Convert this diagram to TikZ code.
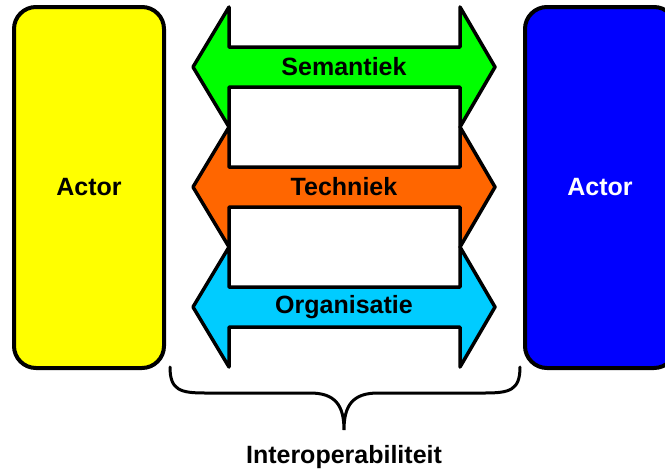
\documentclass[tikz,border=0pt]{standalone}
\usepackage{fontspec}
\setmainfont{Liberation Sans}
\definecolor{cGreen}{RGB}{0,255,0}
\definecolor{cOrange}{RGB}{255,102,0}
\definecolor{cCyan}{RGB}{0,204,255}
\definecolor{cYellow}{RGB}{255,255,0}
\definecolor{cBlue}{RGB}{0,0,255}
\tikzset{
  actorbox/.style={draw=black, line width=4pt, rounded corners=22pt},
  arrowshape/.style={draw=black, line width=3.5pt, line join=round},
  lbl/.style={font=\fontsize{25}{30}\selectfont\bfseries, inner sep=0pt},
  bracepath/.style={draw=black, line width=3pt, line cap=round},
}
\newcommand{\dblarrow}[2]{%
  \path[arrowshape, fill=#2] (193,#1) -- (229,#1-60) -- (229,#1-20) -- (460,#1-20) -- (460,#1-60) -- (495,#1)
    -- (460,#1+60) -- (460,#1+20) -- (229,#1+20) -- (229,#1+60) -- cycle;}
\begin{document}
\begin{tikzpicture}[x=1pt,y=-1pt]
\useasboundingbox (0,0) rectangle (665,472);
\clip (0,0) rectangle (665,472);
% actors
\path[actorbox, fill=cYellow] (14,7) rectangle (164,368);
\node[lbl] (actorL) at (89,187) {Actor};
\path[actorbox, fill=cBlue] (525,7) rectangle (676,368);
\node[lbl, text=white] (actorR) at (600,187) {Actor};
% arrows
\dblarrow{67}{cGreen}
\node[lbl] (sem) at (344,67) {Semantiek};
\dblarrow{187}{cOrange}
\node[lbl] (tech) at (344,187) {Techniek};
\dblarrow{307}{cCyan}
\node[lbl] (org) at (344,307) {Organisatie};
% brace
\path[bracepath] (170,367) .. controls (170,390) and (180,393) .. (205,393) -- (310,393)
  .. controls (335,393) and (344,405) .. (344,430)
  .. controls (344,405) and (353,393) .. (378,393) -- (485,393)
  .. controls (510,393) and (520,390) .. (520,367);
\node[lbl] (interop) at (344,457) {Interoperabiliteit};
\end{tikzpicture}
\end{document}
